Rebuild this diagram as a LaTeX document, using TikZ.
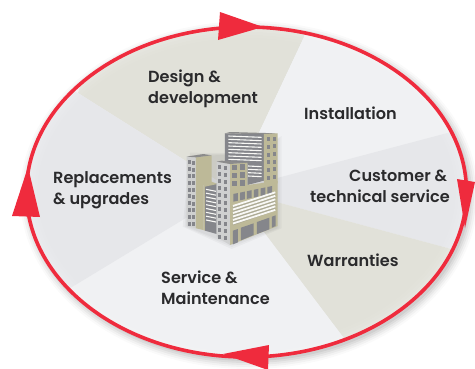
\documentclass[tikz,border=0pt]{standalone}
\usepackage{fontspec}
\setmainfont{Poppins}[BoldFont={Poppins SemiBold}]
\definecolor{ringred}{HTML}{EF2B3D}
\definecolor{khaki}{HTML}{BDB998}
\definecolor{wallgray}{HTML}{85868B}
\definecolor{paleface}{HTML}{CFD0D0}
\definecolor{sand}{HTML}{E1E1D9}
\definecolor{palewedge}{HTML}{F0F1F3}
\definecolor{midwedge}{HTML}{E6E7EA}
\definecolor{ink}{HTML}{2A2A2C}
\tikzset{
  label/.style={font=\fontsize{16.1}{21}\selectfont\bfseries, text=ink, align=left, anchor=north west, inner sep=0pt},
  ring/.style={draw=ringred, line width=3.6pt},
  head/.style={fill=ringred, draw=none},
  glass/.style={fill=wallgray, draw=none},
  stripe/.style={draw=white!90!khaki, line width=1.1pt},
  win/.style={fill=wallgray, draw=none}
}
\begin{document}
\begin{tikzpicture}[x=1pt,y=-1pt]
\useasboundingbox (0,0) rectangle (475,368);
\fill[white] (0,0) rectangle (475,368);
% soft shadow
\foreach \r/\o in {9/.02,7/.03,5/.04,3/.05,1/.06}{
  \fill[black,opacity=\o] (249,195) ellipse ({220+\r} and {165+\r});
}
\begin{scope}
\clip (246.5,192) ellipse (220 and 165);
\fill[palewedge] (0,0) rectangle (475,368);
\fill[sand] (232,190) -- (78,93) -- (100,20) -- (304,20) -- (304,37) -- cycle;
\fill[palewedge] (232,190) -- (304,37) -- (330,0) -- (475,40) -- (455,131) -- cycle;
\fill[midwedge] (232,190) -- (455,131) -- (480,120) -- (480,257) -- (455,250) -- cycle;
\fill[sand] (232,190) -- (455,250) -- (480,257) -- (480,368) -- (360,368) -- (343,337) -- cycle;
\fill[palewedge] (232,190) -- (343,337) -- (360,368) -- (40,368) -- (72,287) -- cycle;
\fill[midwedge] (232,190) -- (72,287) -- (0,330) -- (0,60) -- (78,93) -- cycle;
% soft pale rim inside the ring
\foreach \w/\o in {22/.05,16/.06,10/.08,5/.10}{
  \draw[white,opacity=\o,line width=\w pt] (246.5,192) ellipse (220 and 165);
}
\end{scope}
% ring
\draw[ring] (246.5,192) ellipse (220 and 165);
\fill[head] (220,12) -- (263,27) -- (218,40) -- cycle;
\fill[head] (457,179) -- (475,182) -- (465,228) -- cycle;
\fill[head] (269,345) -- (268,370) -- (223,354) -- cycle;
\fill[head] (12,216) -- (40,217) -- (28,167) -- cycle;
% labels
\node[label] (design) at (148,70) {Design \&\\development};
\node[label] (install) at (304,107) {Installation};
\node[label] (customer) at (310,170) {\hspace*{39pt}Customer \&\\technical service};
\node[label] (warranty) at (307,254) {Warranties};
\node[label] (service) at (161,271) {Service \&\\Maintenance};
\node[label] (replace) at (53,171) {Replacements\\\& upgrades};
% building, drawn in 3x crop coordinates
\begin{scope}[shift={(170,120)},x=.3333pt,y=-.3333pt]
\foreach \g/\o in {0/.03,6/.03,12/.03}{
  \fill[black,opacity=\o] ({50-\g},320) -- (185,{375+\g}) -- ({323+\g},325) -- ({323+\g},{60-\g}) -- (240,100) -- (60,{110-\g}) -- cycle;
}
% back tower
\fill[glass] (165,40) -- (282,42) -- (282,182) -- (232,195) -- (232,130) -- (165,125) -- cycle;
\fill[black!45] (165,40) -- (180,36) -- (323,40) -- (282,43) -- cycle;
\foreach \y in {0,...,7}{
  \draw[stripe] (175,{48+\y*10}) -- (275,{52+\y*10});
}
\foreach \y in {0,1,2,3}{
  \draw[stripe] (234,{138+\y*10}) -- (275,{140+\y*10});
}
\fill[khaki] (282,42) -- (323,40) -- (323,190) -- (282,195) -- cycle;
\foreach \y in {0,...,5}{
  \fill[win] (290,{52+\y*23}) rectangle (301,{64+\y*23});
  \fill[win] (308,{50+\y*23}) rectangle (319,{62+\y*23});
}
% left tower
\fill[paleface] (50,110) -- (78,112) -- (78,325) -- (50,318) -- cycle;
\fill[khaki] (78,112) -- (125,106) -- (125,190) -- (100,195) -- (100,330) -- (78,325) -- cycle;
\fill[black!45] (50,110) -- (100,102) -- (125,106) -- (78,112) -- cycle;
\foreach \y in {0,...,9}{
  \fill[win] (54,{121+\y*20.5}) rectangle (62,{133+\y*20.5});
  \fill[win] (66,{122+\y*20.5}) rectangle (74,{134+\y*20.5});
}
% low middle block
\fill[glass] (105,198) -- (140,190) -- (140,342) -- (105,332) -- cycle;
\fill[khaki] (100,195) -- (125,185) -- (142,192) -- (105,200) -- (105,332) -- (100,330) -- cycle;
\foreach \y in {0,...,8}{
  \draw[stripe] (108,{208+\y*11.5}) -- (138,{214+\y*11.5});
}
% main block
\fill[khaki] (180,132) -- (232,128) -- (232,195) -- (323,183) -- (323,318) -- (180,375) -- cycle;
\foreach \x/\y in {186/134,211/132,186/158,211/156,186/182,211/180}{
  \fill[win] (\x,\y) rectangle ++(15,17);
}
\foreach \i in {0,...,5}{
  \fill[win] ({190+\i*20.5},{222-\i*4.2}) -- ++(14,-3) -- ++(0,23) -- ++(-14,3) -- cycle;
}
\fill[khaki!70!wallgray] (189,258) -- (316,217) -- (316,272) -- (189,316) -- cycle;
\foreach \i in {0,...,5}{
  \draw[draw=white!90!khaki,line width=1.8pt] (189,{258+\i*10.5}) -- (316,{217+\i*10.5});
}
\fill[win] (189,332) -- (204,327) -- (204,367) -- (189,373) -- cycle;
\fill[win] (213,323) -- (251,310) -- (251,345) -- (213,361) -- cycle;
\fill[win] (261,306) -- (298,293) -- (298,328) -- (261,342) -- cycle;
\fill[win] (306,290) -- (317,286) -- (317,318) -- (306,323) -- cycle;
% mid tower
\fill[paleface] (140,125) -- (180,132) -- (180,375) -- (140,350) -- cycle;
\fill[black!45] (140,125) -- (155,122) -- (232,128) -- (180,132) -- cycle;
\foreach \y in {0,...,10}{
  \fill[win] (144,{135+\y*21}) rectangle (154,{148+\y*21});
  \fill[win] (162,{137+\y*21}) rectangle (172,{150+\y*21});
}
\end{scope}
\end{tikzpicture}
\end{document}
